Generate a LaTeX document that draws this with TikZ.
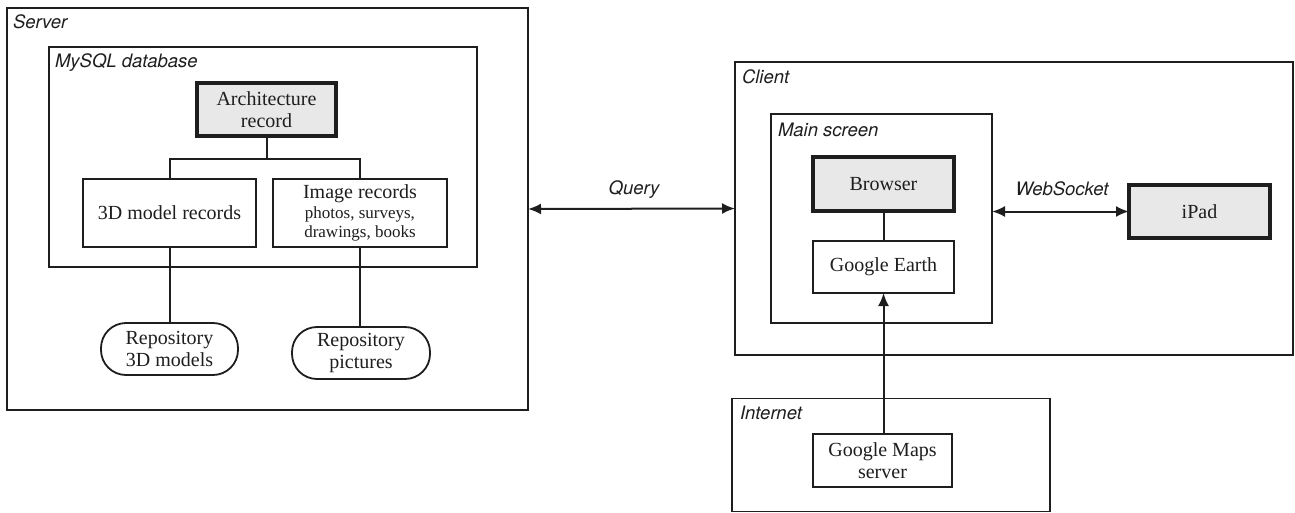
\documentclass[tikz,border=0pt]{standalone}
\usepackage{fontspec}
\setmainfont{Liberation Serif}
\newfontfamily\labelfont{TeX Gyre Heros}
\usetikzlibrary{arrows.meta,calc}
\definecolor{boxgray}{HTML}{E8E8E8}
\definecolor{ink}{HTML}{1E1E1E}
\tikzset{
  every node/.style={inner sep=0pt, outer sep=0pt, text=ink},
  container/.style={draw=ink, line width=1.8pt, fill=none},
  plainbox/.style={draw=ink, line width=1.8pt, fill=white, align=center, font=\fontsize{20}{22}\selectfont},
  graybox/.style={draw=ink, line width=3.5pt, fill=boxgray, align=center, font=\fontsize{20}{22}\selectfont},
  repobox/.style={draw=ink, line width=1.8pt, fill=white, rounded corners=25pt, align=center, font=\fontsize{20}{22}\selectfont},
  grouplabel/.style={anchor=west, font=\labelfont\itshape\fontsize{18.5}{20}\selectfont},
  conn/.style={draw=ink, line width=2pt},
  biarrow/.style={conn, {Latex[length=13pt,width=11pt]}-{Latex[length=13pt,width=11pt]}},
  onearrow/.style={conn, -{Latex[length=13pt,width=11pt]}},
}
\begin{document}
\begin{tikzpicture}[x=1pt,y=-1pt]
\useasboundingbox (0,0) rectangle (1295,513);
% containers
\node[container, minimum width=521pt, minimum height=402pt] (server) at (267.5,209) {};
\node[grouplabel] (serverlbl) at (13,22) {Server};
\node[container, minimum width=428pt, minimum height=220pt] (mysql) at (263,157) {};
\node[grouplabel] (mysqllbl) at (55,63) {MySQL database};
\node[container, minimum width=558pt, minimum height=293pt] (client) at (1014,208.5) {};
\node[grouplabel] (clientlbl) at (742,77) {Client};
\node[container, minimum width=221pt, minimum height=209pt] (main) at (881.5,218.5) {};
\node[grouplabel] (mainlbl) at (778,130) {Main screen};
\node[container, minimum width=318pt, minimum height=113pt] (internet) at (891,455) {};
\node[grouplabel] (internetlbl) at (740,413) {Internet};
% boxes
\node[graybox, minimum width=139pt, minimum height=53pt] (arch) at (266.5,109.5) {Architecture\\record};
\node[plainbox, minimum width=173pt, minimum height=68pt] (model) at (169.5,213) {3D model records};
\node[plainbox, minimum width=174pt, minimum height=68pt] (image) at (360,213) {Image records\\[-2pt]{\fontsize{17}{18}\selectfont photos, surveys,}\\[-3pt]{\fontsize{17}{18}\selectfont drawings, books}};
\node[repobox, minimum width=137pt, minimum height=52pt] (repo3d) at (169.5,349) {Repository\\3D models};
\node[repobox, minimum width=138pt, minimum height=52pt] (repopic) at (361,353) {Repository\\pictures};
\node[graybox, minimum width=141pt, minimum height=54pt] (browser) at (883.5,184) {Browser};
\node[plainbox, minimum width=141pt, minimum height=52pt] (earth) at (883.5,267) {Google Earth};
\node[graybox, minimum width=141pt, minimum height=53pt] (ipad) at (1199.5,211.5) {iPad};
\node[plainbox, minimum width=139pt, minimum height=53pt] (gmaps) at (882.5,460.5) {Google Maps\\server};
% connectors
\draw[conn] (arch.south) -- ++(0,23) coordinate (branch) -| (model.north);
\draw[conn] (branch) -| (image.north);
\draw[conn] (model.south) -- (repo3d.north);
\draw[conn] (image.south) -- (image.south |- repopic.north);
\draw[conn] (browser.south) -- (earth.north);
\draw[onearrow] (earth.south |- gmaps.north) -- (earth.south);
\draw[biarrow] (server.east) -- (client.west);
\draw[biarrow] (main.east |- ipad.west) -- (ipad.west);
% arrow labels
\node[font=\labelfont\itshape\fontsize{18.5}{20}\selectfont] (querylbl) at (634,190) {Query};
\node[font=\labelfont\itshape\fontsize{18.5}{20}\selectfont] (wslbl) at (1062,189) {WebSocket};
\end{tikzpicture}
\end{document}
